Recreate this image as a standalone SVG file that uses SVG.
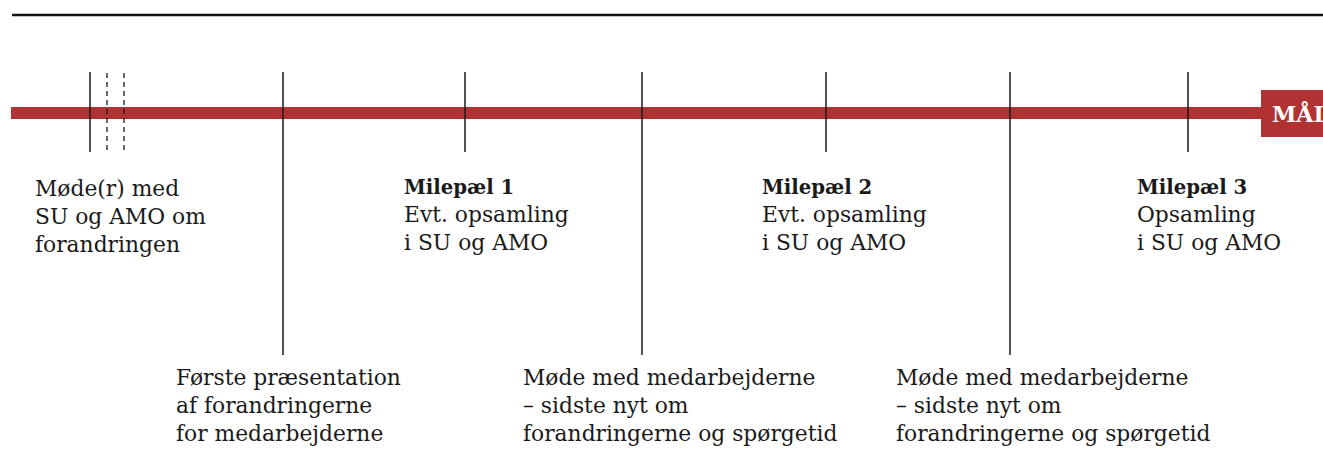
<svg xmlns="http://www.w3.org/2000/svg" width="1323" height="463" viewBox="0 0 1323 463">
<style>
.t{font-family:"DejaVu Serif","Liberation Serif",serif;font-size:21.8px;fill:#1a1a1a}
.b{font-weight:bold;font-size:19.7px}
.v{stroke:#1a1a1a;stroke-width:1.5}
.d{stroke:#1a1a1a;stroke-width:1.3;stroke-dasharray:5,4}
</style>
<rect width="1323" height="463" fill="#fff"/>
<line x1="12" y1="15" x2="1323" y2="15" stroke="#111" stroke-width="2.5"/>
<g id="connectors">
<rect x="11" y="107" width="1260" height="12" fill="#b03232"/>
<line class="v" x1="90" y1="72" x2="90" y2="152"/>
<line class="d" x1="107" y1="73" x2="107" y2="152"/>
<line class="d" x1="124" y1="73" x2="124" y2="152"/>
<line class="v" x1="283" y1="72" x2="283" y2="355"/>
<line class="v" x1="465" y1="72" x2="465" y2="152"/>
<line class="v" x1="642" y1="72" x2="642" y2="355"/>
<line class="v" x1="826" y1="72" x2="826" y2="152"/>
<line class="v" x1="1010" y1="72" x2="1010" y2="355"/>
<line class="v" x1="1188" y1="72" x2="1188" y2="152"/>
</g>
<g id="maal">
<rect x="1261" y="90" width="62" height="47" fill="#b03232"/>
<text x="1272" y="122" style="font-family:'DejaVu Serif','Liberation Serif',serif;font-weight:bold;font-size:22px;fill:#fff">MÅL</text>
</g>
<g id="n0">
<text class="t" x="35" y="196">Møde(r) med</text>
<text class="t" x="35" y="224">SU og AMO om</text>
<text class="t" x="35" y="252">forandringen</text>
</g>
<g id="n1">
<text class="t" x="176" y="385">Første præsentation</text>
<text class="t" x="176" y="413">af forandringerne</text>
<text class="t" x="176" y="441">for medarbejderne</text>
</g>
<g id="m1">
<text class="t b" x="404" y="194">Milepæl 1</text>
<text class="t" x="404" y="222">Evt. opsamling</text>
<text class="t" x="404" y="250">i SU og AMO</text>
</g>
<g id="n2">
<text class="t" x="523" y="385">Møde med medarbejderne</text>
<text class="t" x="523" y="413">– sidste nyt om</text>
<text class="t" x="523" y="441">forandringerne og spørgetid</text>
</g>
<g id="m2">
<text class="t b" x="762" y="194">Milepæl 2</text>
<text class="t" x="762" y="222">Evt. opsamling</text>
<text class="t" x="762" y="250">i SU og AMO</text>
</g>
<g id="n3">
<text class="t" x="896" y="385">Møde med medarbejderne</text>
<text class="t" x="896" y="413">– sidste nyt om</text>
<text class="t" x="896" y="441">forandringerne og spørgetid</text>
</g>
<g id="m3">
<text class="t b" x="1137" y="194">Milepæl 3</text>
<text class="t" x="1137" y="222">Opsamling</text>
<text class="t" x="1137" y="250">i SU og AMO</text>
</g>
</svg>
